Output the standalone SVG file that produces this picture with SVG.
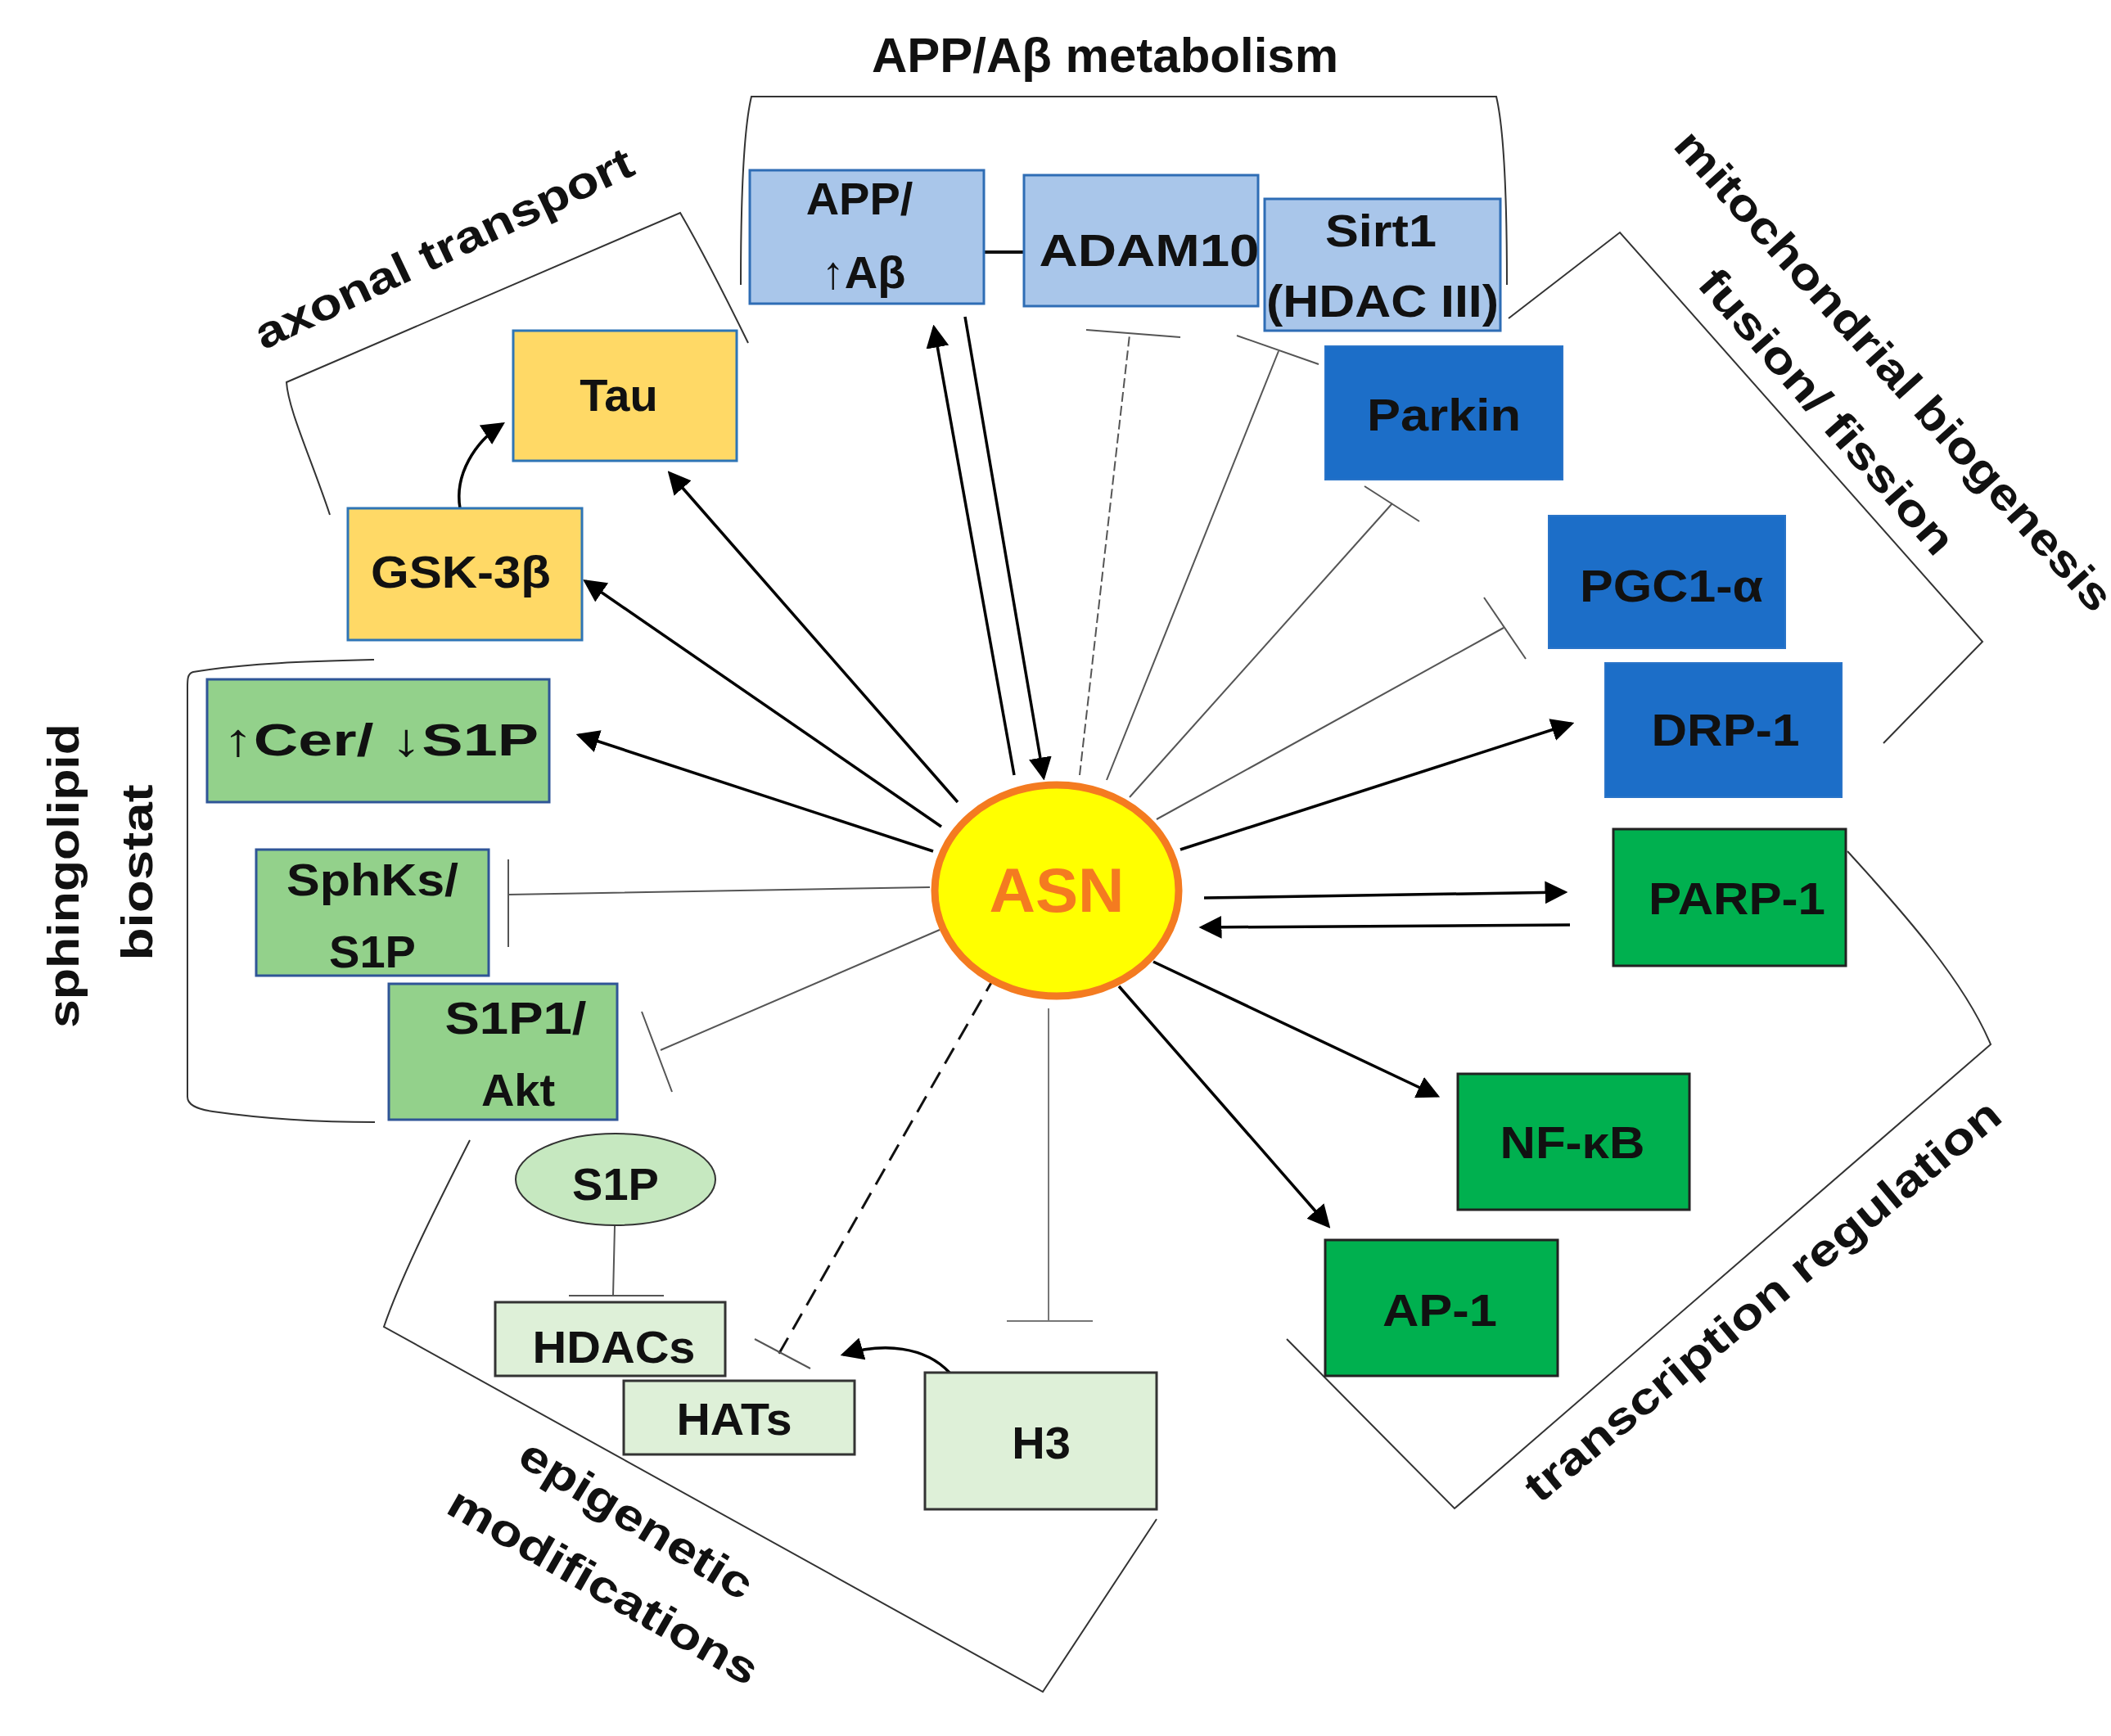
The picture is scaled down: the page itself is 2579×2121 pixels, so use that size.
<svg xmlns="http://www.w3.org/2000/svg" width="2579" height="2121" viewBox="0 0 2579 2121">
<style>
.t{font-family:"Liberation Sans",Arial,sans-serif;font-weight:bold;fill:#111;}
.bx{font-size:56px;text-anchor:middle;}
.lb{font-size:54px;text-anchor:middle;}
.lb2{font-size:60px;text-anchor:middle;}
.br{fill:none;stroke:#333;stroke-width:2;}
.inh{fill:none;stroke:#555;stroke-width:2;}
.ar{fill:none;stroke:#000;stroke-width:3.5;marker-end:url(#ah);}
.lbl{fill:#A9C6EA;stroke:#2E6DB5;stroke-width:3;}
.dbl{fill:#1C6EC8;stroke:#2A74C8;stroke-width:2;}
.yel{fill:#FFD966;stroke:#2E75B6;stroke-width:3;}
.sg{fill:#93D18B;stroke:#2F5597;stroke-width:3;}
.eg{fill:#DEF0D8;stroke:#333;stroke-width:3;}
.tg{fill:#00B04F;stroke:#222;stroke-width:3;}
</style>
<defs>
<marker id="ah" markerWidth="8" markerHeight="8" refX="7" refY="4" orient="auto" markerUnits="strokeWidth"><path d="M0,0 L8,4 L0,8 Z" fill="#000"/></marker>
</defs>
<rect width="2579" height="2121" fill="#fff"/>

<g id="group-labels">
<text class="t lb2" x="1350" y="88">APP/Aβ metabolism</text>
<text class="t lb" transform="translate(550,320) rotate(-25.3)" textLength="505" lengthAdjust="spacingAndGlyphs">axonal transport</text>
<text class="t lb" transform="translate(2300,465) rotate(48)" textLength="770" lengthAdjust="spacingAndGlyphs">mitochondrial biogenesis</text>
<text class="t lb" transform="translate(2218,515) rotate(48.8)" textLength="444" lengthAdjust="spacingAndGlyphs">fusion/ fission</text>
<text class="t lb" transform="translate(96,1070) rotate(-90)" textLength="372" lengthAdjust="spacingAndGlyphs">sphingolipid</text>
<text class="t lb" transform="translate(186,1066) rotate(-90)" textLength="215" lengthAdjust="spacingAndGlyphs">biostat</text>
<text class="t lb" transform="translate(768,1872) rotate(31.5)" textLength="324" lengthAdjust="spacingAndGlyphs">epigenetic</text>
<text class="t lb" transform="translate(728,1954) rotate(29.9)" textLength="428" lengthAdjust="spacingAndGlyphs">modifications</text>
<text class="t lb" transform="translate(2165,1603) rotate(-39.6)" textLength="737" lengthAdjust="spacingAndGlyphs">transcription regulation</text>
</g>

<g id="brackets">
<path class="br" d="M905,348 C905,250 908,160 918,118 L1828,118 C1838,160 1841,250 1841,348"/>
<path class="br" d="M403,629 C380,560 352,500 350,467 L831,260 C860,310 890,370 914,419"/>
<path class="br" d="M1843,389 L1979,284 L2422,784 L2301,908"/>
<path class="br" d="M457,806 C380,808 300,810 236,821 C229,823 229,830 229,840 L229,1340 C229,1350 240,1355 260,1358 C330,1368 400,1371 458,1371"/>
<path class="br" d="M574,1393 C530,1480 490,1560 469,1621 L1274,2067 L1413,1856"/>
<path class="br" d="M2257,1040 C2330,1120 2400,1200 2432,1276 L1777,1843 L1572,1636"/>
</g>

<g id="connectors">
<path class="ar" d="M1239,947 L1141,400"/>
<path class="ar" d="M1179,387 L1275,950"/>
<path class="inh" d="M1163,260 L1163,363 M1163,308 L1251,308" style="stroke:#111;stroke-width:4"/>
<path class="inh" d="M1319,947 L1380,409" stroke-dasharray="12,5"/>
<path class="inh" d="M1327,403 L1442,412"/>
<path class="inh" d="M1352,953 L1562,429"/>
<path class="inh" d="M1511,410 L1611,445"/>
<path class="inh" d="M1380,974 L1701,615"/>
<path class="inh" d="M1667,594 L1734,637"/>
<path class="inh" d="M1413,1001 L1837,767"/>
<path class="inh" d="M1813,730 L1864,805"/>
<path class="ar" d="M1442,1038 L1920,884"/>
<path class="ar" d="M1471,1097 L1912,1090"/>
<path class="ar" d="M1918,1130 L1468,1133"/>
<path class="ar" d="M1409,1175 L1756,1339"/>
<path class="ar" d="M1367,1205 L1623,1498"/>
<path class="ar" d="M1170,980 L818,578"/>
<path class="ar" d="M1150,1010 L715,710"/>
<path class="ar" d="M1140,1040 L707,898"/>
<path class="ar" d="M562,621 C555,580 580,540 614,518"/>
<path class="inh" d="M1136,1084 L621,1093 M621,1050 L621,1157"/>
<path class="inh" d="M1148,1136 L807,1283 M784,1236 L821,1334"/>
<path class="inh" d="M1216,1192 L951,1655" stroke-dasharray="22,12" style="stroke:#111;stroke-width:3"/>
<path class="inh" d="M922,1636 L990,1672"/>
<path class="inh" d="M1281,1232 L1281,1614 M1230,1614 L1335,1614" style="stroke:#777"/>
<path class="inh" d="M751,1498 L749,1583 M695,1583 L811,1583"/>
<path class="ar" d="M1160,1677 C1130,1645 1080,1640 1030,1655"/>
</g>

<g id="node-app"><rect class="lbl" x="916" y="208" width="286" height="163"/><text class="t bx" x="1050" y="262">APP/</text><text class="t bx" x="1055" y="352">↑Aβ</text></g>
<g id="node-adam10"><rect class="lbl" x="1251" y="214" width="286" height="160"/><text class="t bx" x="1404" y="325" textLength="269" lengthAdjust="spacingAndGlyphs">ADAM10</text></g>
<g id="node-sirt1"><rect class="lbl" x="1545" y="243" width="288" height="161"/><text class="t bx" x="1687" y="301" textLength="136" lengthAdjust="spacingAndGlyphs">Sirt1</text><text class="t bx" x="1689" y="387" textLength="284" lengthAdjust="spacingAndGlyphs">(HDAC III)</text></g>
<g id="node-parkin"><rect class="dbl" x="1619" y="423" width="290" height="163"/><text class="t bx" x="1764" y="526" textLength="188" lengthAdjust="spacingAndGlyphs">Parkin</text></g>
<g id="node-pgc1"><rect class="dbl" x="1892" y="630" width="289" height="162"/><text class="t bx" x="2042" y="735" textLength="224" lengthAdjust="spacingAndGlyphs">PGC1-α</text></g>
<g id="node-drp1"><rect class="dbl" x="1961" y="810" width="289" height="164"/><text class="t bx" x="2108" y="911" textLength="181" lengthAdjust="spacingAndGlyphs">DRP-1</text></g>
<g id="node-tau"><rect class="yel" x="627" y="404" width="273" height="159"/><text class="t bx" x="756" y="502">Tau</text></g>
<g id="node-gsk"><rect class="yel" x="425" y="621" width="286" height="161"/><text class="t bx" x="563" y="718" textLength="220" lengthAdjust="spacingAndGlyphs">GSK-3β</text></g>
<g id="node-cer"><rect class="sg" x="253" y="830" width="418" height="150"/><text class="t bx" x="465" y="923" textLength="386" lengthAdjust="spacingAndGlyphs">↑Cer/ ↓S1P</text></g>
<g id="node-sphks"><rect class="sg" x="313" y="1038" width="284" height="154"/><text class="t bx" x="455" y="1094" textLength="210" lengthAdjust="spacingAndGlyphs">SphKs/</text><text class="t bx" x="455" y="1182">S1P</text></g>
<g id="node-s1p1"><rect class="sg" x="475" y="1202" width="279" height="166"/><text class="t bx" x="630" y="1263" textLength="173" lengthAdjust="spacingAndGlyphs">S1P1/</text><text class="t bx" x="633" y="1351">Akt</text></g>
<g id="node-s1p"><ellipse cx="752" cy="1441" rx="122" ry="56" fill="#C6E8C0" stroke="#333" stroke-width="2"/><text class="t bx" x="752" y="1466">S1P</text></g>
<g id="node-hdacs"><rect class="eg" x="605" y="1591" width="281" height="90"/><text class="t bx" x="750" y="1665" textLength="199" lengthAdjust="spacingAndGlyphs">HDACs</text></g>
<g id="node-hats"><rect class="eg" x="762" y="1687" width="282" height="90"/><text class="t bx" x="897" y="1753" textLength="141" lengthAdjust="spacingAndGlyphs">HATs</text></g>
<g id="node-h3"><rect class="eg" x="1130" y="1677" width="283" height="167"/><text class="t bx" x="1272" y="1782">H3</text></g>
<g id="node-parp1"><rect class="tg" x="1971" y="1013" width="284" height="167"/><text class="t bx" x="2122" y="1117" textLength="216" lengthAdjust="spacingAndGlyphs">PARP-1</text></g>
<g id="node-nfkb"><rect class="tg" x="1781" y="1312" width="283" height="166"/><text class="t bx" x="1921" y="1415" textLength="177" lengthAdjust="spacingAndGlyphs">NF-κB</text></g>
<g id="node-ap1"><rect class="tg" x="1619" y="1515" width="284" height="166"/><text class="t bx" x="1759" y="1620" textLength="140" lengthAdjust="spacingAndGlyphs">AP-1</text></g>
<g id="node-asn"><ellipse cx="1291" cy="1088" rx="149" ry="129" fill="#FFFF00" stroke="#F47B20" stroke-width="9"/><text class="t" x="1291" y="1114" style="font-size:76px;text-anchor:middle;fill:#F47B20" textLength="165" lengthAdjust="spacingAndGlyphs">ASN</text></g>
</svg>
